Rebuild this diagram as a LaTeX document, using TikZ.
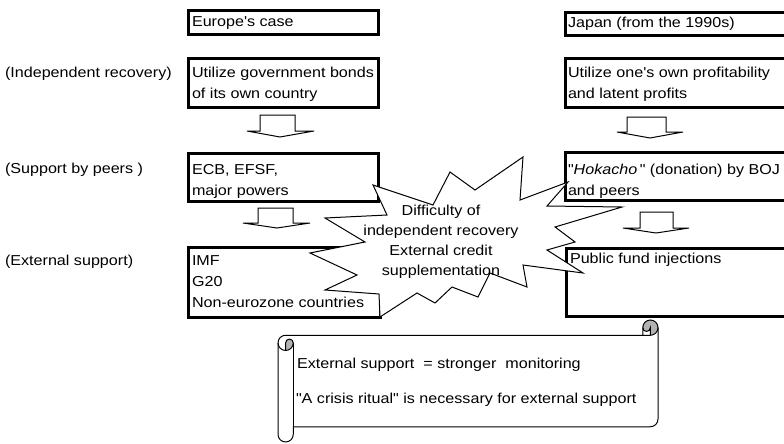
\documentclass[tikz,border=0pt]{standalone}
\usepackage{fontspec}
\setmainfont{Liberation Sans}[FakeStretch=1.12, Ligatures=TeXOff]
\begin{document}
\begin{tikzpicture}[x=0.75pt,y=-0.75pt,
  box/.style={draw=black, line width=2.25pt, fill=white, inner sep=0pt, outer sep=0pt, anchor=north west},
  txt/.style={inner sep=0pt, outer sep=0pt, anchor=north west, align=left, font=\fontsize{10.8}{15.75}\selectfont},
  basetxt/.style={inner sep=0pt, outer sep=0pt, anchor=base west, font=\fontsize{10.8}{15.75}\selectfont},
  startxt/.style={inner sep=0pt, outer sep=0pt, align=center, font=\fontsize{10.8}{15}\selectfont},
  blk/.style={draw=black, line width=0.75pt, fill=white, line join=miter},
  starline/.style={draw=black, line width=0.75pt, fill=white, line join=miter},
  scrollline/.style={draw=black, line width=0.75pt},
  curl/.style={fill=black!30}]
\useasboundingbox (0,0) rectangle (784,443);
\clip (0,0) rectangle (784,443);
\fill[white] (0,0) rectangle (784,443);

% row labels
\node[txt] (lab1) at (5,62.3) {\strut(Independent recovery)};
\node[txt] (lab2) at (5,158.3) {\strut(Support by peers )};
\node[txt] (lab3) at (5,250.3) {\strut(External support)};

% left column
\node[box, minimum width={190*0.75pt}, minimum height={24.5*0.75pt}] (eu0) at (188,10) {};
\node[box, minimum width={190*0.75pt}, minimum height={49*0.75pt}] (eu1) at (188,58) {};
\node[box, minimum width={190*0.75pt}, minimum height={48*0.75pt}] (eu2) at (188,153) {};
\node[box, minimum width={192*0.75pt}, minimum height={70*0.75pt}] (eu3) at (188,247) {};
\node[txt] (eu0t) at (192,11.8) {\strut Europe's case};
\node[txt] (eu1t) at (192,62.3) {\strut Utilize government bonds\\\strut of its own country};
\node[txt] (eu2t) at (192,159.3) {\strut ECB, EFSF,\\\strut major powers};
\node[txt] (eu3t) at (192,250.3) {\strut IMF\\\strut G20\\\strut Non-eurozone countries};

% right column
\node[box, minimum width={240*0.75pt}, minimum height={23*0.75pt}] (jp0) at (565,12) {};
\node[box, minimum width={240*0.75pt}, minimum height={49*0.75pt}] (jp1) at (565,58) {};
\node[box, minimum width={240*0.75pt}, minimum height={48*0.75pt}] (jp2) at (565,152) {};
\node[box, minimum width={240*0.75pt}, minimum height={68*0.75pt}] (jp3) at (566,248) {};
\node[txt] (jp0t) at (568,12.3) {\strut Japan (from the 1990s)};
\node[txt] (jp1t) at (568,62.3) {\strut Utilize one's own profitability\\\strut and latent profits};
\node[txt] (jp2t) at (568,159.3) {\strut "\textit{Hokacho}\thinspace" (donation) by BOJ\\\strut and peers};
\node[txt] (jp3t) at (570,248.5) {\strut Public fund injections};

% block arrows
\draw[blk] (260,115) -- (295,115) -- (295,131) -- (314,131) -- (280,137) -- (247,131) -- (260,131) -- cycle;
\draw[blk] (258,208) -- (293,208) -- (293,223) -- (310,223) -- (277,228) -- (243,223) -- (258,223) -- cycle;
\draw[blk] (627,117) -- (666,117) -- (666,132) -- (683,132) -- (650,138) -- (617,132) -- (627,132) -- cycle;
\draw[blk] (640,212) -- (673,212) -- (673,228) -- (689,228) -- (656,233) -- (623,228) -- (640,228) -- cycle;

% explosion
\draw[starline] (373,185) -- (433,205) -- (450,172) -- (475,190) -- (523,157) -- (520,200)
  -- (568,182) -- (547,206) -- (622,207) -- (555,227) -- (575,242) -- (547,250) -- (583,273)
  -- (523,265) -- (527,287) -- (490,273) -- (478,297) -- (452,287) -- (435,303) -- (417,293)
  -- (380,317) -- (379,294) -- (325,290) -- (357,275) -- (310,253) -- (365,242) -- (325,218)
  -- (387,215) -- cycle;
\node[startxt] (start) at (441,241) {\strut Difficulty of\\\strut independent recovery\\\strut External credit\\\strut supplementation};

% scroll
\fill[white] (658,327.625) arc[start angle=0, delta angle=90, radius=7.625] -- (650.375,327.625)
  arc[start angle=0, delta angle=180, radius=3.8125] -- (642.75,335.25) -- (285.625,335.25)
  arc[start angle=270, delta angle=-90, radius=7.625] -- (278,434.375)
  arc[start angle=180, delta angle=-180, radius=7.625] -- (293.25,426.75) -- (650.375,426.75)
  arc[start angle=90, delta angle=-90, radius=7.625] -- cycle;
\fill[curl] (285.625,350.5) arc[start angle=90, delta angle=-90, radius=7.625]
  arc[start angle=0, delta angle=-180, radius=3.8125] -- cycle;
\fill[curl] (650.375,335.25) arc[start angle=90, delta angle=-270, radius=7.625]
  arc[start angle=180, delta angle=-180, radius=3.8125] -- cycle;
\draw[scrollline] (278,342.875) arc[start angle=180, delta angle=90, radius=7.625] -- (642.75,335.25)
  -- (642.75,327.625) arc[start angle=180, delta angle=180, radius=7.625] -- (658,419.125)
  arc[start angle=0, delta angle=90, radius=7.625] -- (293.25,426.75) -- (293.25,434.375)
  arc[start angle=0, delta angle=180, radius=7.625] -- cycle;
\draw[scrollline] (642.75,335.25) -- (650.375,335.25) arc[start angle=90, delta angle=-90, radius=7.625];
\draw[scrollline] (650.375,335.25) -- (650.375,327.625) arc[start angle=0, delta angle=180, radius=3.8125];
\draw[scrollline] (285.625,350.5) -- (285.625,342.875) arc[start angle=180, delta angle=180, radius=3.8125]
  arc[start angle=0, delta angle=180, radius=7.625];
\draw[scrollline] (293.25,342.875) -- (293.25,426.75);
\node[basetxt] (sc1) at (297,368) {External support\ \ = stronger\ \ monitoring};
\node[basetxt] (sc2) at (296,403) {"A crisis ritual" is necessary for external support};
\end{tikzpicture}
\end{document}
